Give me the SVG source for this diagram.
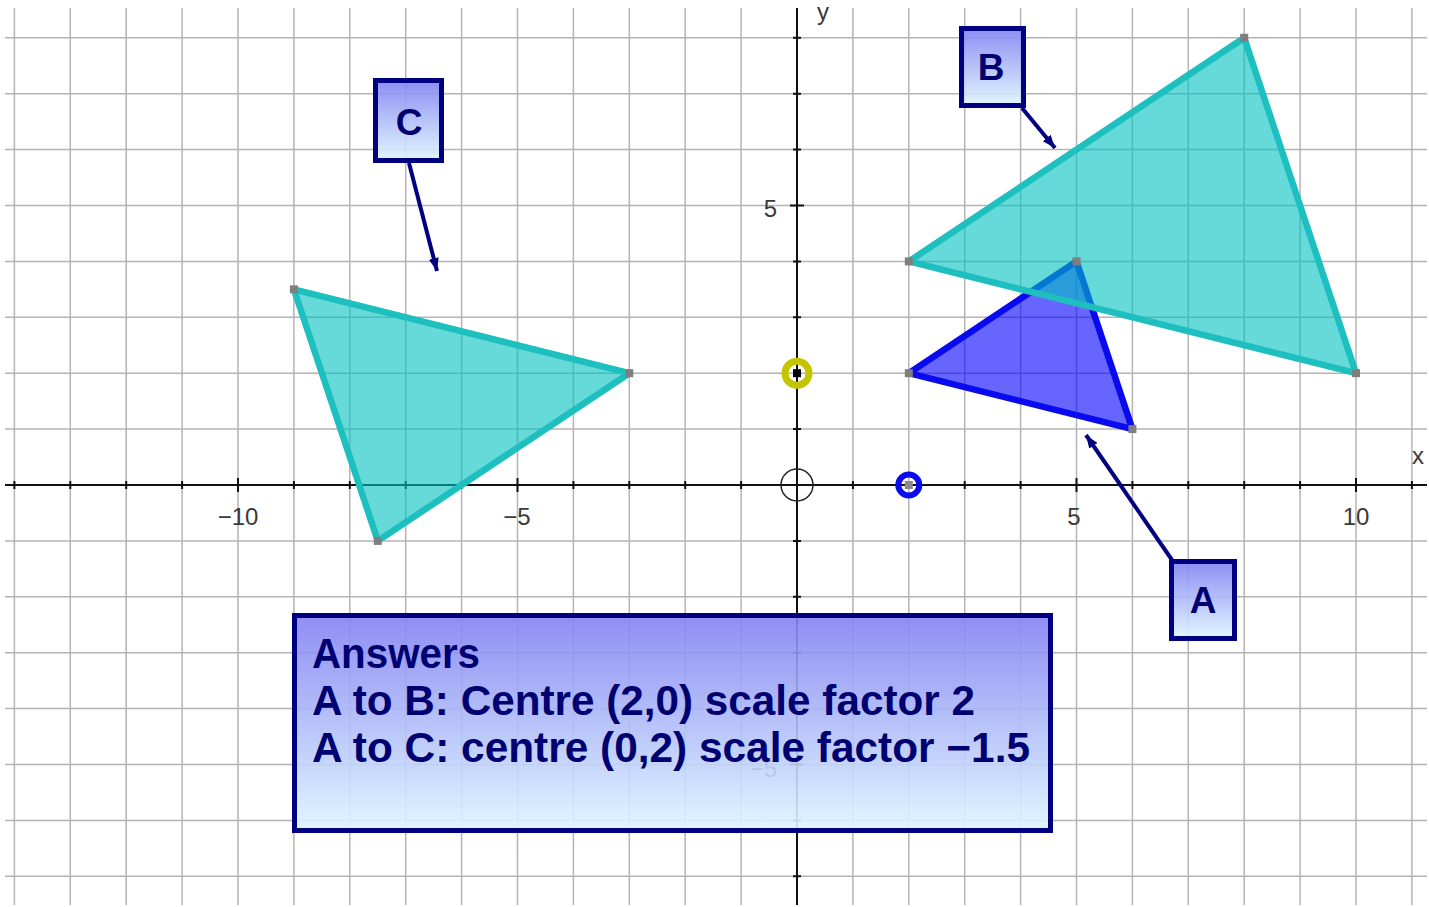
<svg xmlns="http://www.w3.org/2000/svg" width="1429" height="907" viewBox="0 0 1429 907">
<style>
.grid{stroke:#b4b4b4;stroke-width:1.5;fill:none}
.axis{stroke:#111;stroke-width:2;fill:none}
.tick{font-family:"Liberation Sans",Arial,sans-serif;font-size:24px;fill:#3a3a3a}
.tri-cyan{fill:rgb(0,191,191);fill-opacity:0.6;stroke:#1dbfbf;stroke-width:6.5;stroke-linejoin:round}
.tri-blue{fill:rgb(0,0,255);fill-opacity:0.6;stroke:#0a0aee;stroke-width:6.5;stroke-linejoin:round}
.vtx{fill:#7f7f7f}
.lbox{fill:url(#boxgrad);fill-opacity:0.9;stroke:#000080;stroke-width:5}
.ltext{font-family:"Liberation Sans",Arial,sans-serif;font-weight:bold;font-size:37px;fill:#000070;text-anchor:middle}
.atext{font-family:"Liberation Sans",Arial,sans-serif;font-weight:bold;font-size:42px;fill:#000070}
.conn{stroke:#000080;stroke-width:4;fill:none;marker-end:url(#arr)}
</style>
<defs>
<linearGradient id="boxgrad" x1="0" y1="0" x2="0" y2="1">
<stop offset="0" stop-color="#8282f2"/>
<stop offset="1" stop-color="#ddf6ff"/>
</linearGradient>
<marker id="arr" markerUnits="userSpaceOnUse" markerWidth="16" markerHeight="14" refX="13" refY="6" orient="auto">
<path d="M0,1 L13,6 L0,11 Z" fill="#000080"/>
</marker>
</defs>
<rect width="1429" height="907" fill="#ffffff"/>
<g id="grid">
<path class="grid" d="M14.4,8V905 M70.3,8V905 M126.2,8V905 M182.1,8V905 M238,8V905 M293.9,8V905 M349.8,8V905 M405.7,8V905 M461.6,8V905 M517.5,8V905 M573.4,8V905 M629.3,8V905 M685.2,8V905 M741.1,8V905 M852.9,8V905 M908.8,8V905 M964.7,8V905 M1020.6,8V905 M1076.5,8V905 M1132.4,8V905 M1188.3,8V905 M1244.2,8V905 M1300.1,8V905 M1356,8V905 M1411.9,8V905"/>
<path class="grid" d="M5,37.8H1427 M5,93.7H1427 M5,149.6H1427 M5,205.5H1427 M5,261.4H1427 M5,317.3H1427 M5,373.2H1427 M5,429.1H1427 M5,540.9H1427 M5,596.8H1427 M5,652.7H1427 M5,708.6H1427 M5,764.5H1427 M5,820.4H1427 M5,876.3H1427"/>
</g>
<g id="axes">
<path class="axis" d="M5,485H1427 M797,8V905"/>
<path class="axis" d="M14.4,481v8 M70.3,481v8 M126.2,481v8 M182.1,481v8 M238,478v14 M293.9,481v8 M349.8,481v8 M405.7,481v8 M461.6,481v8 M517.5,478v14 M573.4,481v8 M629.3,481v8 M685.2,481v8 M741.1,481v8 M852.9,481v8 M908.8,481v8 M964.7,481v8 M1020.6,481v8 M1076.5,478v14 M1132.4,481v8 M1188.3,481v8 M1244.2,481v8 M1300.1,481v8 M1356,478v14 M1411.9,481v8"/>
<path class="axis" d="M793,37.8h8 M793,93.7h8 M793,149.6h8 M790,205.5h14 M793,261.4h8 M793,317.3h8 M793,373.2h8 M793,429.1h8 M793,540.9h8 M793,596.8h8 M793,652.7h8 M793,708.6h8 M790,764.5h14 M793,820.4h8 M793,876.3h8"/>
<text class="tick" x="238" y="525" text-anchor="middle">−10</text>
<text class="tick" x="517" y="525" text-anchor="middle">−5</text>
<text class="tick" x="1074" y="525" text-anchor="middle">5</text>
<text class="tick" x="1356" y="525" text-anchor="middle">10</text>
<text class="tick" x="777" y="217" text-anchor="end">5</text>
<text class="tick" x="777" y="777" text-anchor="end">−5</text>
<text class="tick" x="1412" y="464">x</text>
<text class="tick" x="817" y="20">y</text>
</g>
<g id="points">
<circle cx="797" cy="485" r="16" fill="none" stroke="#222" stroke-width="1.5"/>
<circle cx="908.8" cy="485" r="10.5" fill="none" stroke="#0a0aee" stroke-width="6"/>
<rect x="904.8" y="481" width="8" height="8" fill="#8a8a8a"/>
<circle cx="797" cy="373.2" r="12" fill="none" stroke="#c4c400" stroke-width="7"/>
<rect x="793" y="369.2" width="8" height="8" fill="#000"/>
</g>
<g id="triangle-A">
<polygon class="tri-blue" points="908.8,373.2 1076.5,261.4 1132.4,429.1"/>
</g>
<g id="triangle-B">
<polygon class="tri-cyan" points="908.8,261.4 1244.2,37.8 1356,373.2"/>
</g>
<g id="triangle-C">
<polygon class="tri-cyan" points="629.3,373.2 377.8,540.9 293.9,289.3"/>
</g>
<g id="vertices">
<rect class="vtx" x="904.8" y="369.2" width="8" height="8"/>
<rect class="vtx" x="1072.5" y="257.4" width="8" height="8"/>
<rect class="vtx" x="1128.4" y="425.1" width="8" height="8"/>
<rect class="vtx" x="904.8" y="257.4" width="8" height="8"/>
<rect class="vtx" x="1240.2" y="33.8" width="8" height="8"/>
<rect class="vtx" x="1352" y="369.2" width="8" height="8"/>
<rect class="vtx" x="625.3" y="369.2" width="8" height="8"/>
<rect class="vtx" x="373.8" y="536.9" width="8" height="8"/>
<rect class="vtx" x="289.9" y="285.3" width="8" height="8"/>
</g>
<g id="connectors">
<path class="conn" d="M409,163 L437,271"/>
<path class="conn" d="M1022,108 L1055,148"/>
<path class="conn" d="M1172,560 L1086,435"/>
</g>
<g id="label-C">
<rect class="lbox" x="375.5" y="80.5" width="66" height="80"/>
<text class="ltext" x="409" y="135">C</text>
</g>
<g id="label-B">
<rect class="lbox" x="961.5" y="28.5" width="62" height="77"/>
<text class="ltext" x="991" y="80">B</text>
</g>
<g id="label-A">
<rect class="lbox" x="1171.5" y="561.5" width="63" height="77"/>
<text class="ltext" x="1203" y="613">A</text>
</g>
<g id="answers">
<rect class="lbox" x="294.5" y="615.5" width="756" height="215"/>
<text class="atext" x="312" y="668" textLength="168" lengthAdjust="spacingAndGlyphs">Answers</text>
<text class="atext" x="312" y="715" textLength="663" lengthAdjust="spacingAndGlyphs">A to B: Centre (2,0) scale factor 2</text>
<text class="atext" x="312" y="762" textLength="718" lengthAdjust="spacingAndGlyphs">A to C: centre (0,2) scale factor −1.5</text>
</g>
</svg>
